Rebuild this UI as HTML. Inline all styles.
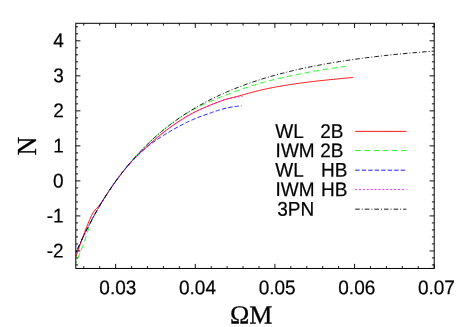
<!DOCTYPE html>
<html><head><meta charset="utf-8"><title>plot</title>
<style>
html,body{margin:0;padding:0;background:#fff;}
body{width:467px;height:327px;overflow:hidden;font-family:"Liberation Sans",sans-serif;}
svg{display:block;will-change:transform;}
svg text{font-family:"Liberation Sans",sans-serif;font-size:19px;fill:#000;stroke:#000;stroke-width:0.2px;}
svg text.ser{font-family:"Liberation Serif",serif;font-size:26px;stroke-width:0.3px;}
svg path{fill:none;stroke-width:0.9;}
</style></head><body>
<svg width="467" height="327" viewBox="0 0 467 327">
<rect width="467" height="327" fill="#fff"/>
<defs><clipPath id="c"><rect x="75.8" y="23.3" width="358.4" height="245.14999999999998"/></clipPath></defs>
<g clip-path="url(#c)">
<path d="M75.90,256.63 L77.64,251.57 L79.38,246.62 L81.13,241.77 L82.87,237.02 L84.61,232.29 L86.35,227.72 L88.09,223.44 L89.84,219.34 L91.58,215.47 L93.32,212.13 L95.06,210.01 L96.81,208.23 L98.55,206.10 L100.29,203.97 L102.03,201.60 L103.77,198.91 L105.52,196.23 L107.26,193.57 L109.00,190.96 L110.74,188.39 L112.48,185.88 L114.23,183.41 L115.97,180.99 L117.71,178.61 L119.45,176.28 L121.20,174.00 L122.94,171.77 L124.68,169.58 L126.42,167.44 L128.16,165.36 L129.91,163.32 L131.65,161.35 L133.39,159.47 L135.13,157.67 L136.87,155.94 L138.62,154.26 L140.36,152.62 L142.10,151.02 L143.84,149.44 L145.59,147.86 L147.33,146.29 L149.07,144.70 L150.81,143.13 L152.55,141.59 L154.30,140.06 L156.04,138.57 L157.78,137.09 L159.52,135.64 L161.26,134.22 L163.01,132.83 L164.75,131.46 L166.49,130.12 L168.23,128.81 L169.98,127.53 L171.72,126.28 L173.46,125.05 L175.20,123.84 L176.94,122.65 L178.69,121.49 L180.43,120.36 L182.17,119.24 L183.91,118.16 L185.65,117.10 L187.40,116.06 L189.14,115.05 L190.88,114.08 L192.62,113.14 L194.37,112.25 L196.11,111.39 L197.85,110.56 L199.59,109.75 L201.33,108.96 L203.08,108.19 L204.82,107.42 L206.56,106.67 L208.30,105.93 L210.04,105.20 L211.79,104.49 L213.53,103.79 L215.27,103.11 L217.01,102.45 L218.76,101.80 L220.50,101.18 L222.24,100.57 L223.98,99.99 L225.72,99.43 L227.47,98.91 L229.21,98.42 L230.95,97.96 L232.69,97.51 L234.43,97.07 L236.18,96.63 L237.92,96.18 L239.66,95.72 L241.40,95.23 L243.15,94.75 L244.89,94.26 L246.63,93.77 L248.37,93.29 L250.11,92.81 L251.86,92.33 L253.60,91.87 L255.34,91.42 L257.08,90.98 L258.82,90.55 L260.57,90.14 L262.31,89.74 L264.05,89.36 L265.79,88.98 L267.54,88.61 L269.28,88.25 L271.02,87.90 L272.76,87.56 L274.50,87.23 L276.25,86.90 L277.99,86.59 L279.73,86.28 L281.47,85.97 L283.21,85.68 L284.96,85.39 L286.70,85.11 L288.44,84.83 L290.18,84.56 L291.93,84.29 L293.67,84.03 L295.41,83.78 L297.15,83.53 L298.89,83.28 L300.64,83.04 L302.38,82.81 L304.12,82.58 L305.86,82.35 L307.60,82.14 L309.35,81.92 L311.09,81.71 L312.83,81.51 L314.57,81.31 L316.32,81.11 L318.06,80.92 L319.80,80.73 L321.54,80.54 L323.28,80.36 L325.03,80.18 L326.77,79.99 L328.51,79.81 L330.25,79.63 L331.99,79.46 L333.74,79.28 L335.48,79.11 L337.22,78.94 L338.96,78.77 L340.71,78.60 L342.45,78.43 L344.19,78.27 L345.93,78.11 L347.67,77.95 L349.42,77.79 L351.16,77.63 L352.90,77.48" stroke="#ff0000"/>
<path d="M75.90,263.13 L77.60,258.90 L79.30,254.70 L81.00,250.55 L82.70,246.42 L84.40,241.82 L86.10,236.33 L87.80,230.97 L89.49,226.06 L91.19,221.64 L92.89,217.99 L94.59,214.77 L96.29,211.74 L97.99,208.77 L99.69,205.86 L101.39,203.02 L103.09,200.23 L104.79,197.50 L106.49,194.83 L108.19,192.21 L109.89,189.65 L111.59,187.14 L113.29,184.67 L114.99,182.26 L116.68,179.90 L118.38,177.58 L120.08,175.31 L121.78,173.08 L123.48,170.90 L125.18,168.76 L126.88,166.66 L128.58,164.60 L130.28,162.58 L131.98,160.60 L133.68,158.66 L135.38,156.75 L137.08,154.89 L138.78,153.05 L140.48,151.26 L142.18,149.49 L143.87,147.76 L145.57,146.06 L147.27,144.39 L148.97,142.76 L150.67,141.15 L152.37,139.57 L154.07,138.03 L155.77,136.51 L157.47,135.02 L159.17,133.55 L160.87,132.11 L162.57,130.70 L164.27,129.31 L165.97,127.95 L167.67,126.61 L169.37,125.30 L171.06,124.01 L172.76,122.74 L174.46,121.50 L176.16,120.27 L177.86,119.07 L179.56,117.89 L181.26,116.73 L182.96,115.62 L184.66,114.54 L186.36,113.50 L188.06,112.50 L189.76,111.52 L191.46,110.58 L193.16,109.65 L194.86,108.76 L196.56,107.88 L198.25,107.02 L199.95,106.18 L201.65,105.35 L203.35,104.53 L205.05,103.72 L206.75,102.92 L208.45,102.15 L210.15,101.40 L211.85,100.67 L213.55,99.95 L215.25,99.25 L216.95,98.56 L218.65,97.88 L220.35,97.20 L222.05,96.53 L223.75,95.86 L225.44,95.18 L227.14,94.52 L228.84,93.86 L230.54,93.20 L232.24,92.56 L233.94,91.92 L235.64,91.29 L237.34,90.67 L239.04,90.06 L240.74,89.46 L242.44,88.87 L244.14,88.29 L245.84,87.71 L247.54,87.15 L249.24,86.59 L250.94,86.04 L252.63,85.50 L254.33,84.97 L256.03,84.45 L257.73,83.94 L259.43,83.44 L261.13,82.95 L262.83,82.47 L264.53,82.00 L266.23,81.55 L267.93,81.10 L269.63,80.66 L271.33,80.23 L273.03,79.81 L274.73,79.40 L276.43,78.99 L278.13,78.59 L279.82,78.20 L281.52,77.82 L283.22,77.44 L284.92,77.06 L286.62,76.69 L288.32,76.33 L290.02,75.97 L291.72,75.62 L293.42,75.26 L295.12,74.92 L296.82,74.57 L298.52,74.23 L300.22,73.89 L301.92,73.55 L303.62,73.21 L305.32,72.88 L307.01,72.55 L308.71,72.22 L310.41,71.90 L312.11,71.58 L313.81,71.27 L315.51,70.96 L317.21,70.66 L318.91,70.36 L320.61,70.07 L322.31,69.78 L324.01,69.50 L325.71,69.22 L327.41,68.96 L329.11,68.69 L330.81,68.44 L332.51,68.19 L334.20,67.96 L335.90,67.73 L337.60,67.50 L339.30,67.28 L341.00,67.07 L342.70,66.87 L344.40,66.67 L346.10,66.47" stroke="#00ff00" stroke-dasharray="5.5 3.63" stroke-dashoffset="3.93"/>
<path d="M75.90,252.83 L76.94,250.46 L77.98,248.11 L79.03,245.80 L80.07,243.53 L81.11,241.28 L82.15,239.06 L83.19,236.87 L84.24,234.72 L85.28,232.59 L86.32,230.49 L87.36,228.41 L88.41,226.37 L89.45,224.35 L90.49,222.36 L91.53,220.39 L92.57,218.45 L93.62,216.54 L94.66,214.65 L95.70,212.79 L96.74,210.95 L97.78,209.13 L98.83,207.33 L99.87,205.56 L100.91,203.82 L101.95,202.09 L103.00,200.39 L104.04,198.70 L105.08,197.04 L106.12,195.40 L107.16,193.79 L108.21,192.19 L109.25,190.61 L110.29,189.05 L111.33,187.51 L112.37,185.99 L113.42,184.49 L114.46,183.00 L115.50,181.54 L116.54,180.09 L117.59,178.66 L118.63,177.25 L119.67,175.86 L120.71,174.48 L121.75,173.14 L122.80,171.83 L123.84,170.54 L124.88,169.29 L125.92,168.06 L126.96,166.85 L128.01,165.67 L129.05,164.50 L130.09,163.36 L131.13,162.23 L132.18,161.12 L133.22,160.02 L134.26,158.94 L135.30,157.87 L136.34,156.81 L137.39,155.77 L138.43,154.76 L139.47,153.76 L140.51,152.78 L141.55,151.82 L142.60,150.88 L143.64,149.95 L144.68,149.04 L145.72,148.15 L146.77,147.27 L147.81,146.40 L148.85,145.56 L149.89,144.74 L150.93,143.95 L151.98,143.17 L153.02,142.41 L154.06,141.66 L155.10,140.92 L156.14,140.19 L157.19,139.47 L158.23,138.76 L159.27,138.06 L160.31,137.38 L161.36,136.70 L162.40,136.04 L163.44,135.38 L164.48,134.73 L165.52,134.09 L166.57,133.46 L167.61,132.83 L168.65,132.21 L169.69,131.60 L170.73,130.98 L171.78,130.38 L172.82,129.78 L173.86,129.18 L174.90,128.59 L175.95,128.01 L176.99,127.43 L178.03,126.86 L179.07,126.30 L180.11,125.74 L181.16,125.19 L182.20,124.65 L183.24,124.12 L184.28,123.59 L185.32,123.08 L186.37,122.57 L187.41,122.07 L188.45,121.58 L189.49,121.10 L190.54,120.63 L191.58,120.16 L192.62,119.71 L193.66,119.27 L194.70,118.83 L195.75,118.40 L196.79,117.98 L197.83,117.57 L198.87,117.16 L199.91,116.76 L200.96,116.36 L202.00,115.97 L203.04,115.59 L204.08,115.21 L205.13,114.83 L206.17,114.46 L207.21,114.09 L208.25,113.73 L209.29,113.37 L210.34,113.01 L211.38,112.65 L212.42,112.29 L213.46,111.93 L214.50,111.58 L215.55,111.24 L216.59,110.90 L217.63,110.56 L218.67,110.23 L219.72,109.91 L220.76,109.60 L221.80,109.30 L222.84,109.00 L223.88,108.72 L224.93,108.45 L225.97,108.19 L227.01,107.95 L228.05,107.72 L229.09,107.51 L230.14,107.31 L231.18,107.13 L232.22,106.96 L233.26,106.81 L234.31,106.66 L235.35,106.52 L236.39,106.38 L237.43,106.26 L238.47,106.13 L239.52,106.01 L240.56,105.89 L241.60,105.77" stroke="#0000ff" stroke-dasharray="4.4 2.1" stroke-dashoffset="1.5"/>
<path d="M75.90,253.33 L76.95,250.90 L78.00,248.51 L79.05,246.16 L80.09,243.83 L81.14,241.54 L82.19,239.28 L83.24,237.05 L84.29,234.85 L85.34,232.68 L86.38,230.54 L87.43,228.43 L88.48,226.35 L89.53,224.30 L90.58,222.28 L91.63,220.29 L92.67,218.32 L93.72,216.39 L94.77,214.48 L95.82,212.59 L96.87,210.74 L97.92,208.90 L98.97,207.10 L100.01,205.32 L101.06,203.56 L102.11,201.83 L103.16,200.12 L104.21,198.43 L105.26,196.77 L106.30,195.12 L107.35,193.49 L108.40,191.89 L109.45,190.30 L110.50,188.74 L111.55,187.20 L112.59,185.68 L113.64,184.17 L114.69,182.69 L115.74,181.23 L116.79,179.79 L117.84,178.37 L118.89,176.97 L119.93,175.59 L120.98,174.22 L122.03,172.88 L123.08,171.55 L124.13,170.24 L125.18,168.95 L126.22,167.67 L127.27,166.41 L128.32,165.17 L129.37,163.94 L130.42,162.73 L131.47,161.55 L132.52,160.41 L133.56,159.29 L134.61,158.20 L135.66,157.14 L136.71,156.10 L137.76,155.08 L138.81,154.08 L139.85,153.09 L140.90,152.12 L141.95,151.16 L143.00,150.20 L144.05,149.25 L145.10,148.30 L146.14,147.36 L147.19,146.41 L148.24,145.46 L149.29,144.50 L150.34,143.56 L151.39,142.62 L152.44,141.69 L153.48,140.77 L154.53,139.86 L155.58,138.96 L156.63,138.06 L157.68,137.18 L158.73,136.30 L159.77,135.44 L160.82,134.58 L161.87,133.73 L162.92,132.90 L163.97,132.07 L165.02,131.25 L166.06,130.45 L167.11,129.65 L168.16,128.87 L169.21,128.09 L170.26,127.33 L171.31,126.57 L172.36,125.83 L173.40,125.09 L174.45,124.36 L175.50,123.64 L176.55,122.92 L177.60,122.22 L178.65,121.52 L179.69,120.83 L180.74,120.15 L181.79,119.48 L182.84,118.82 L183.89,118.17 L184.94,117.53 L185.98,116.90 L187.03,116.28 L188.08,115.66 L189.13,115.06 L190.18,114.47 L191.23,113.89 L192.28,113.33 L193.32,112.78 L194.37,112.24 L195.42,111.72 L196.47,111.21 L197.52,110.71 L198.57,110.22 L199.61,109.74 L200.66,109.26 L201.71,108.79 L202.76,108.33 L203.81,107.86 L204.86,107.41 L205.91,106.95 L206.95,106.49 L208.00,106.04 L209.05,105.60 L210.10,105.15 L211.15,104.71 L212.20,104.28 L213.24,103.85 L214.29,103.43 L215.34,103.02 L216.39,102.62 L217.44,102.22 L218.49,101.83 L219.53,101.45 L220.58,101.09 L221.63,100.73 L222.68,100.38 L223.73,100.05 L224.78,99.73 L225.83,99.42 L226.87,99.15 L227.92,98.90 L228.97,98.67 L230.02,98.46 L231.07,98.26 L232.12,98.07 L233.16,97.89 L234.21,97.71 L235.26,97.53 L236.31,97.35 L237.36,97.18 L238.41,97.02 L239.45,96.86 L240.50,96.72 L241.55,96.58 L242.60,96.45" stroke="#ff00ff" stroke-dasharray="1.8 2.1"/>
<path d="M75.90,252.83 L78.15,247.74 L80.41,242.79 L82.66,237.99 L84.92,233.33 L87.17,228.80 L89.42,224.40 L91.68,220.12 L93.93,215.96 L96.19,211.92 L98.44,208.00 L100.69,204.18 L102.95,200.46 L105.20,196.85 L107.46,193.33 L109.71,189.91 L111.97,186.58 L114.22,183.34 L116.47,180.19 L118.73,177.12 L120.98,174.12 L123.24,171.21 L125.49,168.37 L127.74,165.61 L130.00,162.91 L132.25,160.29 L134.51,157.73 L136.76,155.23 L139.01,152.80 L141.27,150.43 L143.52,148.12 L145.78,145.86 L148.03,143.66 L150.28,141.51 L152.54,139.42 L154.79,137.38 L157.05,135.38 L159.30,133.44 L161.56,131.54 L163.81,129.68 L166.06,127.87 L168.32,126.11 L170.57,124.38 L172.83,122.70 L175.08,121.05 L177.33,119.44 L179.59,117.87 L181.84,116.34 L184.10,114.84 L186.35,113.37 L188.60,111.94 L190.86,110.54 L193.11,109.17 L195.37,107.83 L197.62,106.52 L199.87,105.25 L202.13,104.00 L204.38,102.77 L206.64,101.58 L208.89,100.41 L211.15,99.26 L213.40,98.15 L215.65,97.05 L217.91,95.98 L220.16,94.93 L222.42,93.91 L224.67,92.90 L226.92,91.92 L229.18,90.96 L231.43,90.02 L233.69,89.10 L235.94,88.20 L238.19,87.32 L240.45,86.45 L242.70,85.61 L244.96,84.78 L247.21,83.97 L249.46,83.17 L251.72,82.40 L253.97,81.63 L256.23,80.89 L258.48,80.16 L260.74,79.44 L262.99,78.74 L265.24,78.05 L267.50,77.38 L269.75,76.72 L272.01,76.07 L274.26,75.44 L276.51,74.82 L278.77,74.21 L281.02,73.61 L283.28,73.03 L285.53,72.45 L287.78,71.89 L290.04,71.34 L292.29,70.80 L294.55,70.27 L296.80,69.75 L299.05,69.24 L301.31,68.74 L303.56,68.25 L305.82,67.77 L308.07,67.30 L310.33,66.84 L312.58,66.38 L314.83,65.94 L317.09,65.50 L319.34,65.08 L321.60,64.66 L323.85,64.24 L326.10,63.84 L328.36,63.44 L330.61,63.05 L332.87,62.67 L335.12,62.30 L337.37,61.93 L339.63,61.57 L341.88,61.22 L344.14,60.87 L346.39,60.53 L348.64,60.19 L350.90,59.86 L353.15,59.54 L355.41,59.22 L357.66,58.91 L359.92,58.61 L362.17,58.31 L364.42,58.01 L366.68,57.72 L368.93,57.44 L371.19,57.16 L373.44,56.89 L375.69,56.62 L377.95,56.35 L380.20,56.09 L382.46,55.84 L384.71,55.59 L386.96,55.34 L389.22,55.10 L391.47,54.87 L393.73,54.63 L395.98,54.40 L398.23,54.18 L400.49,53.96 L402.74,53.74 L405.00,53.53 L407.25,53.32 L409.51,53.11 L411.76,52.91 L414.01,52.71 L416.27,52.51 L418.52,52.32 L420.78,52.13 L423.03,51.95 L425.28,51.76 L427.54,51.58 L429.79,51.41 L432.05,51.23 L434.30,51.06" stroke="#000000" stroke-dasharray="4.6 2 1 2" stroke-dashoffset="5.43"/>
</g>
<path d="M83.76,268.45 v-2.3 M83.76,23.3 v2.3 M99.69,268.45 v-2.3 M99.69,23.3 v2.3 M115.62,268.45 v-4.6 M115.62,23.3 v4.6 M131.55,268.45 v-2.3 M131.55,23.3 v2.3 M147.48,268.45 v-2.3 M147.48,23.3 v2.3 M163.41,268.45 v-2.3 M163.41,23.3 v2.3 M179.34,268.45 v-2.3 M179.34,23.3 v2.3 M195.27,268.45 v-4.6 M195.27,23.3 v4.6 M211.20,268.45 v-2.3 M211.20,23.3 v2.3 M227.12,268.45 v-2.3 M227.12,23.3 v2.3 M243.05,268.45 v-2.3 M243.05,23.3 v2.3 M258.98,268.45 v-2.3 M258.98,23.3 v2.3 M274.91,268.45 v-4.6 M274.91,23.3 v4.6 M290.84,268.45 v-2.3 M290.84,23.3 v2.3 M306.77,268.45 v-2.3 M306.77,23.3 v2.3 M322.70,268.45 v-2.3 M322.70,23.3 v2.3 M338.63,268.45 v-2.3 M338.63,23.3 v2.3 M354.56,268.45 v-4.6 M354.56,23.3 v4.6 M370.48,268.45 v-2.3 M370.48,23.3 v2.3 M386.41,268.45 v-2.3 M386.41,23.3 v2.3 M402.34,268.45 v-2.3 M402.34,23.3 v2.3 M418.27,268.45 v-2.3 M418.27,23.3 v2.3 M434.20,268.45 v-4.6 M434.20,23.3 v4.6 M75.8,264.95 h2.3 M434.2,264.95 h-2.3 M75.8,257.94 h2.3 M434.2,257.94 h-2.3 M75.8,250.94 h4.6 M434.2,250.94 h-4.6 M75.8,243.93 h2.3 M434.2,243.93 h-2.3 M75.8,236.93 h2.3 M434.2,236.93 h-2.3 M75.8,229.93 h2.3 M434.2,229.93 h-2.3 M75.8,222.92 h2.3 M434.2,222.92 h-2.3 M75.8,215.92 h4.6 M434.2,215.92 h-4.6 M75.8,208.91 h2.3 M434.2,208.91 h-2.3 M75.8,201.91 h2.3 M434.2,201.91 h-2.3 M75.8,194.91 h2.3 M434.2,194.91 h-2.3 M75.8,187.90 h2.3 M434.2,187.90 h-2.3 M75.8,180.90 h4.6 M434.2,180.90 h-4.6 M75.8,173.89 h2.3 M434.2,173.89 h-2.3 M75.8,166.89 h2.3 M434.2,166.89 h-2.3 M75.8,159.88 h2.3 M434.2,159.88 h-2.3 M75.8,152.88 h2.3 M434.2,152.88 h-2.3 M75.8,145.87 h4.6 M434.2,145.87 h-4.6 M75.8,138.87 h2.3 M434.2,138.87 h-2.3 M75.8,131.87 h2.3 M434.2,131.87 h-2.3 M75.8,124.86 h2.3 M434.2,124.86 h-2.3 M75.8,117.86 h2.3 M434.2,117.86 h-2.3 M75.8,110.85 h4.6 M434.2,110.85 h-4.6 M75.8,103.85 h2.3 M434.2,103.85 h-2.3 M75.8,96.84 h2.3 M434.2,96.84 h-2.3 M75.8,89.84 h2.3 M434.2,89.84 h-2.3 M75.8,82.84 h2.3 M434.2,82.84 h-2.3 M75.8,75.83 h4.6 M434.2,75.83 h-4.6 M75.8,68.83 h2.3 M434.2,68.83 h-2.3 M75.8,61.82 h2.3 M434.2,61.82 h-2.3 M75.8,54.82 h2.3 M434.2,54.82 h-2.3 M75.8,47.81 h2.3 M434.2,47.81 h-2.3 M75.8,40.81 h4.6 M434.2,40.81 h-4.6 M75.8,33.81 h2.3 M434.2,33.81 h-2.3 M75.8,26.80 h2.3 M434.2,26.80 h-2.3" stroke="#000" style="stroke-width:0.95"/>
<rect x="75.8" y="23.3" width="358.4" height="245.14999999999998" fill="none" stroke="#000" stroke-width="1"/>
<g transform="rotate(0.03 233 163)">
<text transform="translate(117.92,294.20) scale(1,1.045)" text-anchor="middle">0.03</text><text transform="translate(197.57,294.20) scale(1,1.045)" text-anchor="middle">0.04</text><text transform="translate(277.21,294.20) scale(1,1.045)" text-anchor="middle">0.05</text><text transform="translate(356.86,294.20) scale(1,1.045)" text-anchor="middle">0.06</text><text transform="translate(436.50,294.20) scale(1,1.045)" text-anchor="middle">0.07</text>
<text transform="translate(63.70,47.41) scale(1,1.045)" text-anchor="end">4</text><text transform="translate(63.70,82.43) scale(1,1.045)" text-anchor="end">3</text><text transform="translate(63.70,117.45) scale(1,1.045)" text-anchor="end">2</text><text transform="translate(63.70,152.47) scale(1,1.045)" text-anchor="end">1</text><text transform="translate(63.70,187.50) scale(1,1.045)" text-anchor="end">0</text><text transform="translate(63.70,222.52) scale(1,1.045)" text-anchor="end">-1</text><text transform="translate(63.70,257.54) scale(1,1.045)" text-anchor="end">-2</text>
<text transform="translate(275.30,138.00) scale(1,1.045)">WL</text><text transform="translate(320.20,138.00) scale(1,1.045)">2B</text><path d="M355.2,131.3 H406.4" stroke="#ff0000"/><text transform="translate(275.60,157.20) scale(1,1.045)">IWM</text><text transform="translate(320.20,157.20) scale(1,1.045)">2B</text><path d="M355.2,150.5 H406.4" stroke="#00ff00" stroke-dasharray="5.5 3.63"/><text transform="translate(275.30,176.80) scale(1,1.045)">WL</text><text transform="translate(321.00,176.80) scale(1,1.045)">HB</text><path d="M355.2,170.1 H406.4" stroke="#0000ff" stroke-dasharray="4.4 2.1"/><text transform="translate(275.60,196.10) scale(1,1.045)">IWM</text><text transform="translate(321.00,196.10) scale(1,1.045)">HB</text><path d="M355.2,189.4 H406.4" stroke="#ff00ff" stroke-dasharray="1.8 2.1"/><text transform="translate(277.20,215.80) scale(1,1.045)">3PN</text><path d="M355.2,209.1 H406.4" stroke="#000000" stroke-dasharray="4.6 2 1 2"/>
<text class="ser" x="251.2" y="323.4" text-anchor="middle">ΩM</text>
</g>
<text class="ser" transform="translate(36.0,146.1) rotate(-90) scale(1,1.06)" text-anchor="middle">N</text>
</svg>
</body></html>
